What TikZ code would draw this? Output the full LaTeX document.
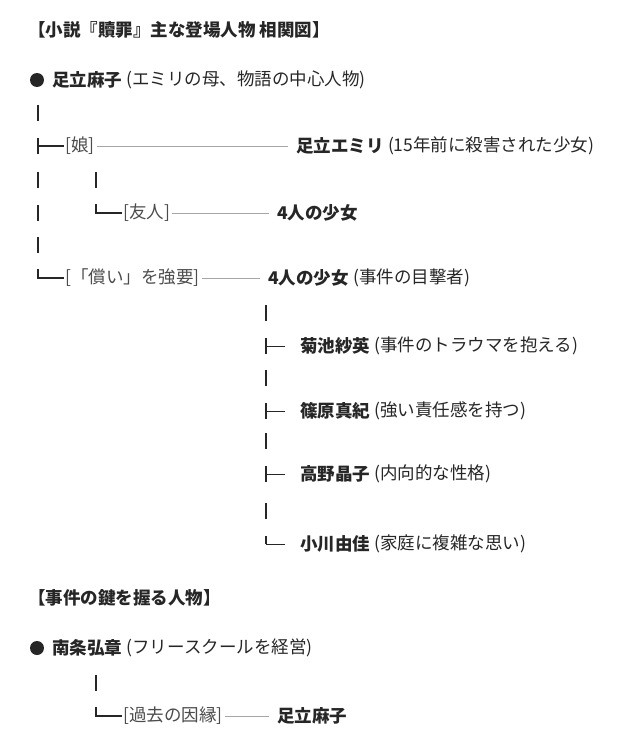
\documentclass[tikz,border=0pt]{standalone}
\usepackage{fontspec}
\setmainfont{Noto Sans CJK JP}
\begin{document}
\begin{tikzpicture}[x=1pt,y=-1pt,
  txt/.style={anchor=west,inner sep=0pt,font=\fontsize{17.5}{19}\selectfont,text=black!85},
  bt/.style={txt,font=\fontsize{17.5}{19}\selectfont\bfseries},
  lab/.style={txt,text=black!70},
  glyph/.style={line width=1.6pt,black!85},
  rel/.style={line width=0.6pt,black!35}]
\useasboundingbox (0,0) rectangle (640,741);
\node[bt] (title) at (28,30) {【小説『贖罪』主な登場人物 相関図】};
\fill[black!85] (37,80) circle (7);
\node[bt] (asako) at (52,80) {足立麻子};
\node[txt] (asakod) at (asako.east) {\ (エミリの母、物語の中心人物)};
\draw[glyph] (38,105)--(38,121);
\draw[glyph] (38,138)--(38,154) (38,146)--(64,146);
\node[lab] (musume) at (65,146) {[娘]};
\node[bt] (emiri) at (296,146) {足立エミリ};
\node[txt] at (emiri.east) {\ (15年前に殺害された少女)};
\draw[rel] (musume.east)++(2,0) -- ([xshift=-8]emiri.west);
\draw[glyph] (38,172)--(38,188) (96,172)--(96,188);
\draw[glyph] (38,205)--(38,221) (96,204)--(96,213)--(122,213);
\node[lab] (yujin) at (123,213) {[友人]};
\node[bt] (four1) at (277,213) {4人の少女};
\draw[rel] (yujin.east)++(2,0) -- ([xshift=-8]four1.west);
\draw[glyph] (38,237)--(38,253);
\draw[glyph] (38,269)--(38,278)--(64,278);
\node[lab] (tsugu) at (65,278) {[「償い」を強要]};
\node[bt] (four2) at (268,278) {4人の少女};
\node[txt] at (four2.east) {\ (事件の目撃者)};
\draw[rel] (tsugu.east)++(2,0) -- ([xshift=-8]four2.west);
\foreach \y/\n/\d/\last in {346/菊池紗英/事件のトラウマを抱える/0,411/篠原真紀/強い責任感を持つ/0,474/高野晶子/内向的な性格/0,544/小川由佳/家庭に複雑な思い/1}{
  \draw[glyph] (266,\y-41)--(266,\y-25);
  \ifnum\last=0
    \draw[glyph] (266,\y-8)--(266,\y+8);
  \else
    \draw[glyph] (266,\y-8)--(266,\y);
  \fi
  \draw[line width=0.8pt,black!85] (266,\y)--(285,\y);
  \node[bt] (g\y) at (300,\y) {\n};
  \node[txt] at (g\y.east) {\ (\d)};
}
\node[bt] (title2) at (28,598) {【事件の鍵を握る人物】};
\fill[black!85] (37,648) circle (7);
\node[bt] (nanjo) at (52,648) {南条弘章};
\node[txt] at (nanjo.east) {\ (フリースクールを経営)};
\draw[glyph] (96,675)--(96,691);
\draw[glyph] (96,707)--(96,716)--(122,716);
\node[lab] (inen) at (123,716) {[過去の因縁]};
\node[bt] (asako2) at (277,716) {足立麻子};
\draw[rel] (inen.east)++(2,0) -- ([xshift=-8]asako2.west);
\end{tikzpicture}
\end{document}
